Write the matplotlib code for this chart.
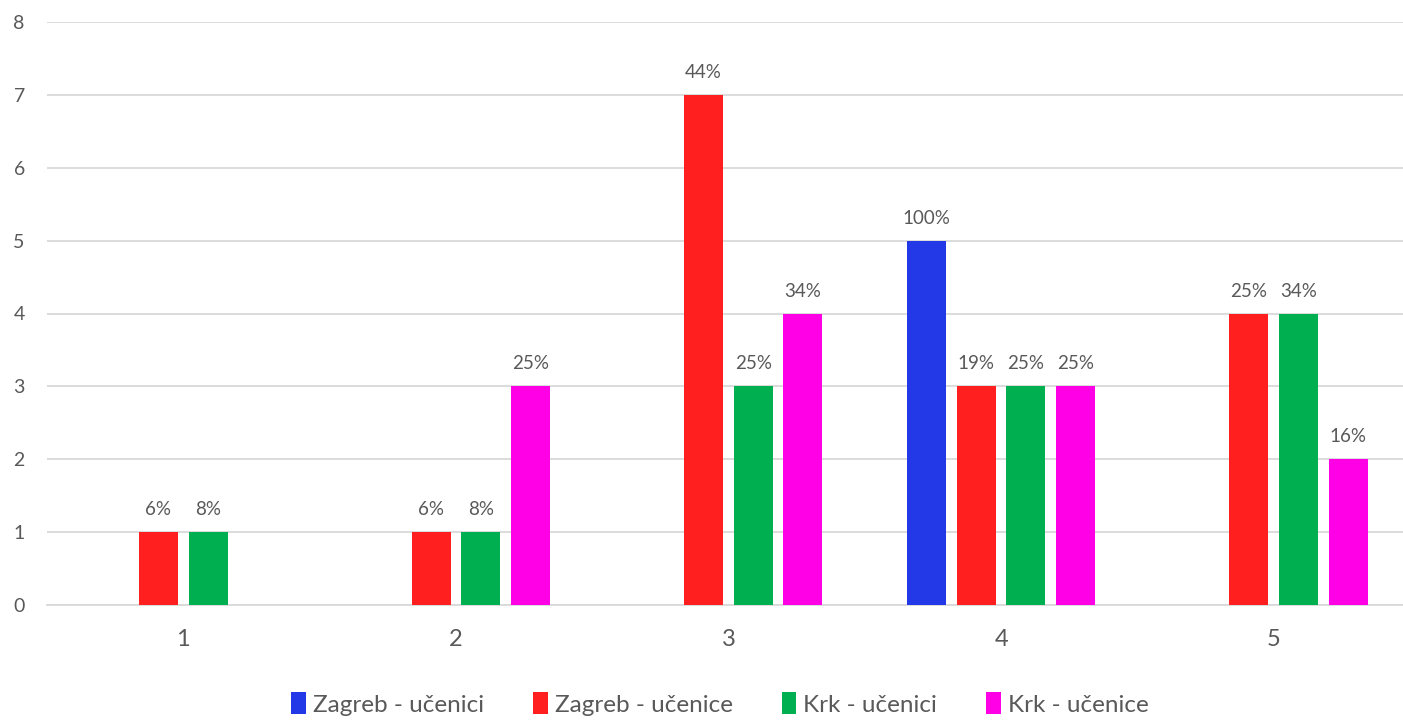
import matplotlib.pyplot as plt
import numpy as np
from matplotlib.patches import Patch

plt.rcParams['font.family'] = ['Lato', 'DejaVu Sans']

categories = ['1', '2', '3', '4', '5']
series_names = ['Zagreb - učenici', 'Zagreb - učenice', 'Krk - učenici', 'Krk - učenice']
values = [
    [0, 0, 0, 5, 0],
    [1, 1, 7, 3, 4],
    [1, 1, 3, 3, 4],
    [0, 3, 4, 3, 2],
]
labels = [
    ['', '', '', '100%', ''],
    ['6%', '6%', '44%', '19%', '25%'],
    ['8%', '8%', '25%', '25%', '34%'],
    ['', '25%', '34%', '25%', '16%'],
]
colors = ['#2339E8', '#FF1F1F', '#00B050', '#FF00E6']
text_color = '#595959'
grid_color = '#D9D9D9'

W, H = 1403, 720
fig = plt.figure(figsize=(W / 100, H / 100), dpi=100)
ax = fig.add_axes([47 / W, 115 / H, (1410 - 47) / W, 583 / H])

x = np.arange(1, len(categories) + 1)
step = 0.182
width = 0.143
for i, (name, vals, labs, col) in enumerate(zip(series_names, values, labels, colors)):
    pos = x + (i - 1.5) * step
    bars = ax.bar(pos, vals, width=width, color=col, label=name, zorder=3)
    for b, v, lab in zip(bars, vals, labs):
        if v > 0 and lab:
            ax.annotate(lab, (b.get_x() + b.get_width() / 2, v), xytext=(0, 10),
                        textcoords='offset points', ha='center', va='bottom',
                        fontsize=13.5, color=text_color)

ax.set_xlim(0.5, 5.5)
ax.set_ylim(0, 8)
ax.set_yticks(range(0, 9))
ax.set_xticks(x)
ax.set_xticklabels(categories)
ax.yaxis.grid(True, color=grid_color, linewidth=1.3, zorder=0)
for s in ['top', 'right', 'left']:
    ax.spines[s].set_visible(False)
ax.spines['bottom'].set_color(grid_color)
ax.spines['bottom'].set_linewidth(1.3)
ax.tick_params(axis='y', length=0, pad=16, labelsize=14, labelcolor=text_color)
ax.tick_params(axis='x', length=0, pad=17, labelsize=17, labelcolor=text_color)

handles = [Patch(facecolor=c, edgecolor='none') for c in colors]
fig.legend(handles, series_names, loc='center', bbox_to_anchor=(720 / W, 1 - 704 / H),
           ncol=4, frameon=False, fontsize=17.5, labelcolor=text_color,
           handlelength=0.6, handleheight=1.0, handletextpad=0.3, columnspacing=2.0)

fig.savefig('out.png', dpi=100)
